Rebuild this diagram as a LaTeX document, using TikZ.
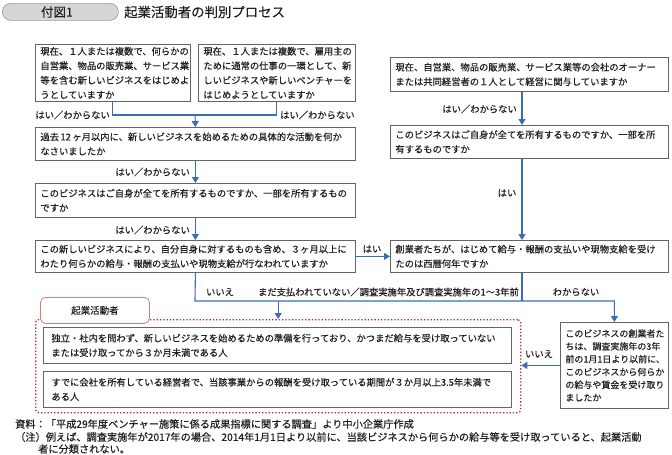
\documentclass[tikz,border=0pt]{standalone}
\usepackage{fontspec}
\setmainfont{Noto Sans CJK JP}[FakeBold=0.4]
\usepackage{xcolor}
\usetikzlibrary{arrows.meta}
\definecolor{ink}{HTML}{231F20}
\definecolor{frame}{HTML}{646464}
\definecolor{flow}{HTML}{3A6DB5}
\definecolor{redline}{HTML}{C8202A}
\definecolor{tabline}{HTML}{E07A7A}
\definecolor{pill}{HTML}{D6D6D6}
\definecolor{pillline}{HTML}{9E9E9E}
\tikzset{
  qbox/.style={draw=frame, line width=0.8pt, fill=white, anchor=north west, align=left,
    inner xsep=5pt, inner ysep=2pt, text=ink, font=\fontsize{9.3}{14.5}\selectfont},
  ibox/.style={qbox, inner xsep=8pt},
  grpbox/.style={draw=redline, dotted, line width=1.3pt, rounded corners=3pt, anchor=north west},
  tabbox/.style={draw=tabline, line width=0.8pt, fill=white, rounded corners=5pt, anchor=north west,
    text=ink, font=\fontsize{9.5}{11}\selectfont},
  link/.style={draw=flow, line width=1.1pt},
  arr/.style={link, -{Triangle[width=7pt,length=6pt]}},
  lab/.style={text=ink, inner sep=1pt, font=\fontsize{9.3}{11}\selectfont},
  note/.style={text=ink, inner sep=0pt, anchor=west, font=\fontsize{10.2}{12}\selectfont}
}
\begin{document}
\begin{tikzpicture}[x=1pt, y=-1pt]
  \useasboundingbox (0,0) rectangle (672,455);

  % Title
  \node[draw=pillline, fill=pill, line width=0.7pt, rounded corners=8.5pt, anchor=north west,
    minimum width=116pt, minimum height=17pt, inner sep=0pt] (pillbox) at (2,3) {};
  \node[text=ink, font=\fontsize{12.5}{14}\selectfont] (fig) at (57,12) {付図1};
  \node[text=ink, anchor=west, inner sep=0pt, font=\fontsize{13.4}{15}\selectfont] (title) at (124,12) {起業活動者の判別プロセス};

  % Left column
  \node[qbox, text width=145pt, minimum height=57pt] (L1) at (35,44)
    {現在、１人または複数で、何らかの\\自営業、物品の販売業、サービス業\\等を含む新しいビジネスをはじめよ\\うとしていますか};
  \node[qbox, text width=147pt, minimum height=57pt] (L2) at (198,44)
    {現在、１人または複数で、雇用主の\\ために通常の仕事の一環として、新\\しいビジネスや新しいベンチャーを\\はじめようとしていますか};
  \node[qbox, text width=310pt, minimum height=33pt] (L3) at (35,127)
    {過去\,12\,ヶ月以内に、新しいビジネスを始めるための具体的な活動を何か\\なさいましたか};
  \node[qbox, text width=310pt, minimum height=34pt] (L4) at (35,183)
    {このビジネスはご自身が全てを所有するものですか、一部を所有するもの\\ですか};
  \node[qbox, text width=310pt, minimum height=32pt] (L5) at (35,240)
    {この新しいビジネスにより、自分自身に対するものも含め、３ヶ月以上に\\わたり何らかの給与・報酬の支払いや現物支給が行なわれていますか};

  % Right column
  \node[qbox, text width=268pt, minimum height=34pt] (R1) at (390,57)
    {現在、自営業、物品の販売業、サービス業等の会社のオーナー\\または共同経営者の１人として経営に関与していますか};
  \node[qbox, text width=268pt, minimum height=33pt] (R2) at (390,125)
    {このビジネスはご自身が全てを所有するものですか、一部を所\\有するものですか};
  \node[qbox, text width=268pt, minimum height=32pt] (R3) at (390,240)
    {創業者たちが、はじめて給与・報酬の支払いや現物支給を受け\\たのは西暦何年ですか};
  \node[qbox, text width=98pt, minimum height=86pt, font=\fontsize{9}{12.8}\selectfont] (R4) at (560,322)
    {このビジネスの創業者た\\ちは、調査実施年の3年\\前の1月1日より以前に、\\このビジネスから何らか\\の給与や賃金を受け取り\\ましたか};

  % Result group
  \node[grpbox, minimum width=485pt, minimum height=93pt] (grp) at (35,319) {};
  \node[tabbox, minimum width=109pt, minimum height=26pt] (tab) at (40,297) {起業活動者};
  \node[ibox, text width=452pt, minimum height=36pt] (A) at (43,327)
    {独立・社内を問わず、新しいビジネスを始めるための準備を行っており、かつまだ給与を受け取っていない\\または受け取ってから３か月未満である人};
  \node[ibox, text width=452pt, minimum height=36pt] (B) at (43,371)
    {すでに会社を所有している経営者で、当該事業からの報酬を受け取っている期間が３か月以上3.5年未満で\\ある人};

  % Connectors
  \coordinate (jt) at (195,115);
  \coordinate (jb) at (195,301);
  \coordinate (rx) at (522,301);
  \draw[link] (L1.south) |- (jt) -| (L2.south);
  \draw[arr] (jt) -- (L3.north);
  \draw[arr] (L3.south) -- (L4.north);
  \draw[arr] (L4.south) -- (L5.north);
  \draw[arr] (L5.east) -- (L5.east -| R3.west);
  \draw[arr] (rx |- R1.south) -- (rx |- R2.north);
  \draw[arr] (rx |- R2.south) -- (rx |- R3.north);
  \draw[link] (rx |- R3.south) -- (rx);
  \draw[arr] (L5.south) -- (jb) -| (R4.north);
  \draw[arr] (jb -| grp.north) -- (grp.north);
  \draw[arr] (R4.west) -- (R4.west -| grp.east);

  % Labels
  \node[lab, anchor=east] (y1) at (111,115) {はい／わからない};
  \node[lab, anchor=west] (y2) at (279,115) {はい／わからない};
  \node[lab, anchor=east] (y3) at (191,172) {はい／わからない};
  \node[lab, anchor=east] (y4) at (191,230) {はい／わからない};
  \node[lab] (y5) at (372,249) {はい};
  \node[lab, anchor=east] (y6) at (518,109) {はい／わからない};
  \node[lab] (y7) at (507,193) {はい};
  \node[lab] (n1) at (220,292) {いいえ};
  \node[lab, anchor=east] (n2) at (520,292) {まだ支払われていない／調査実施年及び調査実施年の1～3年前};
  \node[lab] (n3) at (576,292) {わからない};
  \node[lab] (n4) at (539,354) {いいえ};

  % Footnotes
  \node[note] (src) at (15,424) {資料：「平成29年度ベンチャー施策に係る成果指標に関する調査」より中小企業庁作成};
  \node[note] (nt1) at (15,437) {（注）例えば、調査実施年が2017年の場合、2014年1月1日より以前に、当該ビジネスから何らかの給与等を受け取っていると、起業活動};
  \node[note] (nt2) at (38,449) {者に分類されない。};
\end{tikzpicture}
\end{document}
